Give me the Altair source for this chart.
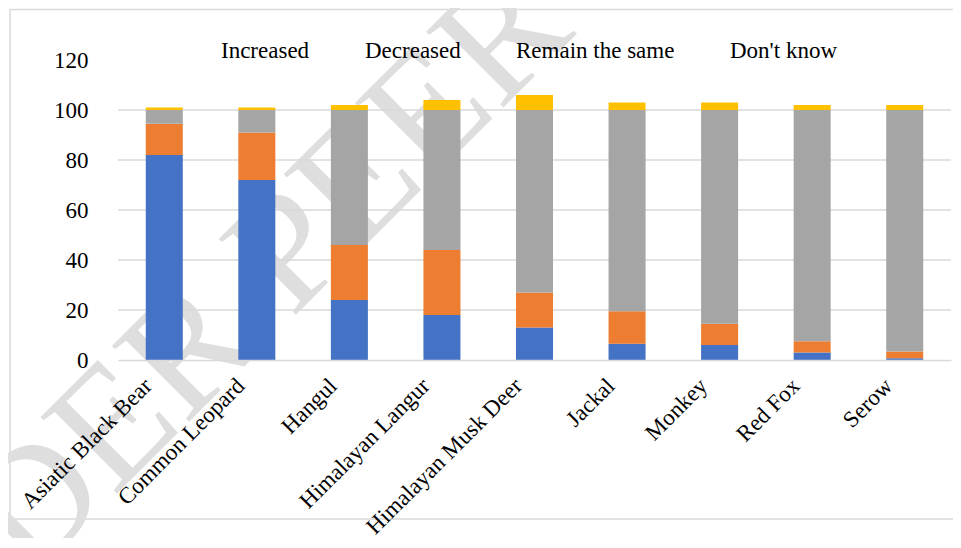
import altair as alt
import pandas as pd

FONT = "Liberation Serif"

categories = ["Asiatic Black Bear", "Common Leopard", "Hangul", "Himalayan Langur",
              "Himalayan Musk Deer", "Jackal", "Monkey", "Red Fox", "Serow"]
series = ["Increased", "Decreased", "Remain the same", "Don't know"]
increased = [82, 72, 24, 18, 13, 6.5, 6, 3, 0.7]
decreased = [12.5, 19, 22, 26, 14, 13, 8.5, 4.5, 2.7]
remain_same = [5.5, 9, 54, 56, 73, 80.5, 85.5, 92.5, 96.6]
dont_know = [1, 1, 2, 4, 6, 3, 3, 2, 2]
colors = ["#4472C4", "#ED7D31", "#A5A5A5", "#FFC000"]
y_ticks = [0, 20, 40, 60, 80, 100, 120]
grid_values = [20, 40, 60, 80, 100]
watermark = ["UNDER PEER REVIEW"]

rows = []
for s_idx, (name, vals) in enumerate(zip(series, [increased, decreased, remain_same, dont_know])):
    for cat, v in zip(categories, vals):
        rows.append({"Animal": cat, "Series": name, "Value": v, "idx": s_idx})
df = pd.DataFrame(rows)

GRID = "#d9d9d9"
yscale = alt.Scale(domain=[0, 120], nice=False)
yaxis = alt.Axis(title=None, values=y_ticks, domain=False, ticks=False, grid=False,
                 labelFont=FONT, labelFontSize=23, labelColor="#000000",
                 labelPadding=30, zindex=1)

bars = alt.Chart(df).mark_bar().encode(
    x=alt.X("Animal:N", sort=categories,
            scale=alt.Scale(paddingInner=0.6, paddingOuter=0.3),
            axis=alt.Axis(title=None, labelAngle=-45, labelAlign="right", labelBaseline="middle",
                          labelFont=FONT, labelFontSize=23, labelColor="#000000",
                          labelPadding=22, labelOffset=-16, labelLimit=0, ticks=False,
                          domainColor=GRID, domainWidth=1.5, grid=False, zindex=1)),
    y=alt.Y("Value:Q", stack="zero", scale=yscale, axis=yaxis),
    color=alt.Color("Series:N", sort=series,
                    scale=alt.Scale(domain=series, range=colors),
                    legend=alt.Legend(title=None, orient="none", legendX=75, legendY=-21,
                                      direction="horizontal", symbolOpacity=0, symbolSize=100,
                                      labelOffset=5, columnPadding=27, zindex=2,
                                      labelFont=FONT, labelFontSize=23, labelColor="#000000")),
    order=alt.Order("idx:Q"),
)

grid = alt.Chart(pd.DataFrame({"g": grid_values})).mark_rule(
    color=GRID, strokeWidth=1.5
).encode(
    y=alt.Y("g:Q", scale=yscale, axis=yaxis)
)

frame = alt.Chart(pd.DataFrame({"f": [0]})).mark_rect(
    fill=None, stroke=GRID, strokeWidth=1.5
).encode(
    x=alt.value(-108), x2=alt.value(846), y=alt.value(-50.5), y2=alt.value(459)
)

wm = alt.Chart(pd.DataFrame({"t": watermark})).mark_text(
    font=FONT, fontSize=165, angle=315, color="#dedede", align="center", baseline="middle"
).encode(
    text="t:N", x=alt.value(307), y=alt.value(55)
)

chart = alt.layer(frame, wm, grid, bars).properties(
    width=833, height=300,
    autosize=alt.AutoSizeParams(type="none"),
    padding={"left": 110, "top": 52, "right": 2, "bottom": 178},
).configure(background="white").configure_view(stroke=None)

chart.save("out.html", embed_options={"renderer": "svg", "actions": False})
